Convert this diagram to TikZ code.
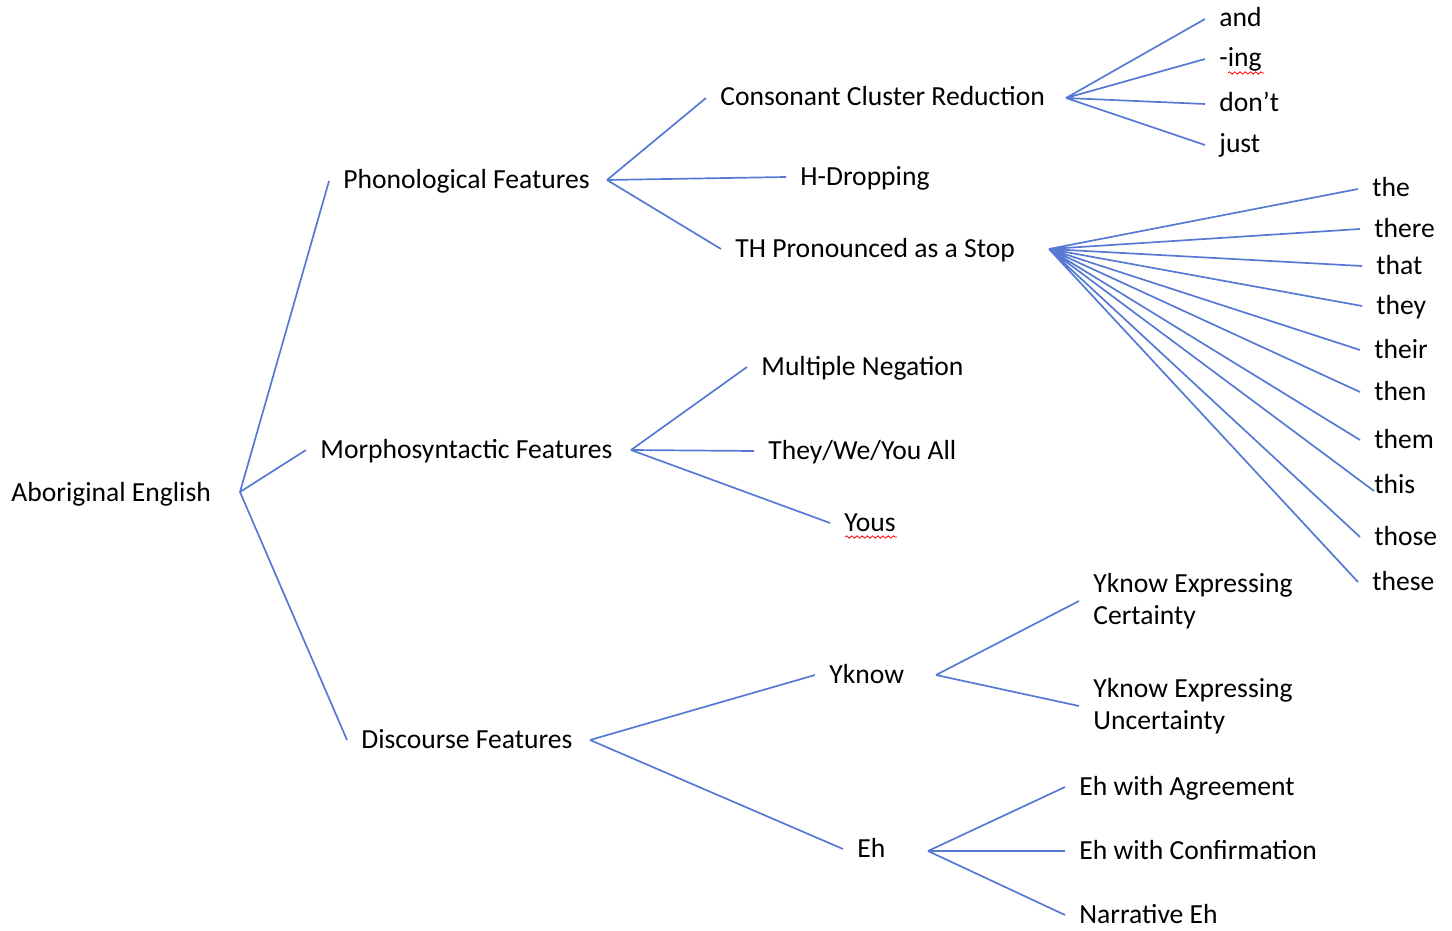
\documentclass[tikz,border=0pt]{standalone}
\usepackage{fontspec}
\setmainfont{Carlito}
\usetikzlibrary{decorations.pathmorphing}

\definecolor{lineblue}{RGB}{86,122,212}

\begin{document}
\begin{tikzpicture}[
    x=0.5pt, y=-0.5pt,
    font=\fontsize{13.8}{16}\selectfont,
    item/.style={
        anchor=west, inner xsep=7pt, inner ysep=0pt,
        text height=0.9em, text depth=0.1em
    },
    twoline/.style={anchor=west, inner xsep=7pt, inner ysep=0pt, align=left},
    branch/.style={draw=lineblue, line width=0.85pt},
    squiggle/.style={
        draw=red, line width=0.4pt, decorate,
        decoration={snake, amplitude=0.6pt, segment length=2.6pt}
    },
]
    \useasboundingbox (0,0) rectangle (1452,931);

    % ---------- root ----------
    \node[item] (root) at (-3,493) {Aboriginal English};
    \coordinate (root-j) at (240,492);

    % ---------- feature groups ----------
    \node[item] (phon) at (329,181) {Phonological Features};
    \node[item] (morph) at (306,450) {Morphosyntactic Features};
    \node[item] (disc) at (347,740) {Discourse Features};

    \draw[branch] (root-j) -- (phon.west) (root-j) -- (morph.west) (root-j) -- (disc.west);

    % ---------- phonological ----------
    \coordinate (phon-j) at (607,180);
    \node[item] (ccr) at (706,98) {Consonant Cluster Reduction};
    \node[item] (hdrop) at (786,177) {H-Dropping};
    \node[item] (thstop) at (721,249) {TH Pronounced as a Stop};

    \draw[branch] (phon-j) -- (ccr.west) (phon-j) -- (hdrop.west) (phon-j) -- (thstop.west);

    % consonant cluster words
    \coordinate (ccr-j) at (1066,98);
    \node[item] (w-and) at (1205,19) {and};
    \node[item] (w-ing) at (1205,59) {-ing};
    \node[item] (w-dont) at (1205,104) {don’t};
    \node[item] (w-just) at (1205,145) {just};

    \draw[branch] (ccr-j) -- (w-and.west) (ccr-j) -- (w-ing.west)
        (ccr-j) -- (w-dont.west) (ccr-j) -- (w-just.west);

    % TH stop words
    \coordinate (th-j) at (1049,249);
    \node[item] (w-the) at (1358,189) {the};
    \node[item] (w-there) at (1360,229) {there};
    \node[item] (w-that) at (1362,266) {that};
    \node[item] (w-they) at (1362,306) {they};
    \node[item] (w-their) at (1360,350) {their};
    \node[item] (w-then) at (1360,392) {then};
    \node[item] (w-them) at (1360,440) {them};
    \node[item] (w-this) at (1360,485) {this};
    \node[item] (w-those) at (1360,537) {those};
    \node[item] (w-these) at (1358,582) {these};

    \draw[branch] (th-j) -- (w-the.west) (th-j) -- (w-there.west)
        (th-j) -- (w-that.west) (th-j) -- (w-they.west)
        (th-j) -- (w-their.west) (th-j) -- (w-then.west)
        (th-j) -- (w-them.west) (th-j) -- ([xshift=7pt,yshift=-3pt]w-this.west)
        (th-j) -- (w-those.west) (th-j) -- (w-these.west);

    % ---------- morphosyntactic ----------
    \coordinate (morph-j) at (631,450);
    \node[item] (multneg) at (747,367) {Multiple Negation};
    \node[item] (theyall) at (754,451) {They/We/You All};
    \node[item] (yous) at (830,523) {Yous};

    \draw[branch] (morph-j) -- (multneg.west) (morph-j) -- (theyall.west) (morph-j) -- (yous.west);

    % ---------- discourse ----------
    \coordinate (disc-j) at (590,740);
    \node[item] (yknow) at (815,675) {Yknow};
    \node[item] (eh) at (843,849) {Eh};

    \draw[branch] (disc-j) -- (yknow.west) (disc-j) -- (eh.west);

    \coordinate (yknow-j) at (936,675);
    \node[twoline] (yk-cert) at (1079,601) {Yknow Expressing\\Certainty};
    \node[twoline] (yk-unc) at (1079,706) {Yknow Expressing\\Uncertainty};

    \draw[branch] (yknow-j) -- (yk-cert.west) (yknow-j) -- (yk-unc.west);

    \coordinate (eh-j) at (928,851);
    \node[item] (eh-agr) at (1065,787) {Eh with Agreement};
    \node[item] (eh-conf) at (1065,851) {Eh with Confirmation};
    \node[item] (eh-narr) at (1065,915) {Narrative Eh};

    \draw[branch] (eh-j) -- (eh-agr.west) (eh-j) -- (eh-conf.west) (eh-j) -- (eh-narr.west);

    % spell-check marks
    \draw[squiggle] (1228,73) -- (1264,73);
    \draw[squiggle] (845,537) -- (897,537);

\end{tikzpicture}
\end{document}
